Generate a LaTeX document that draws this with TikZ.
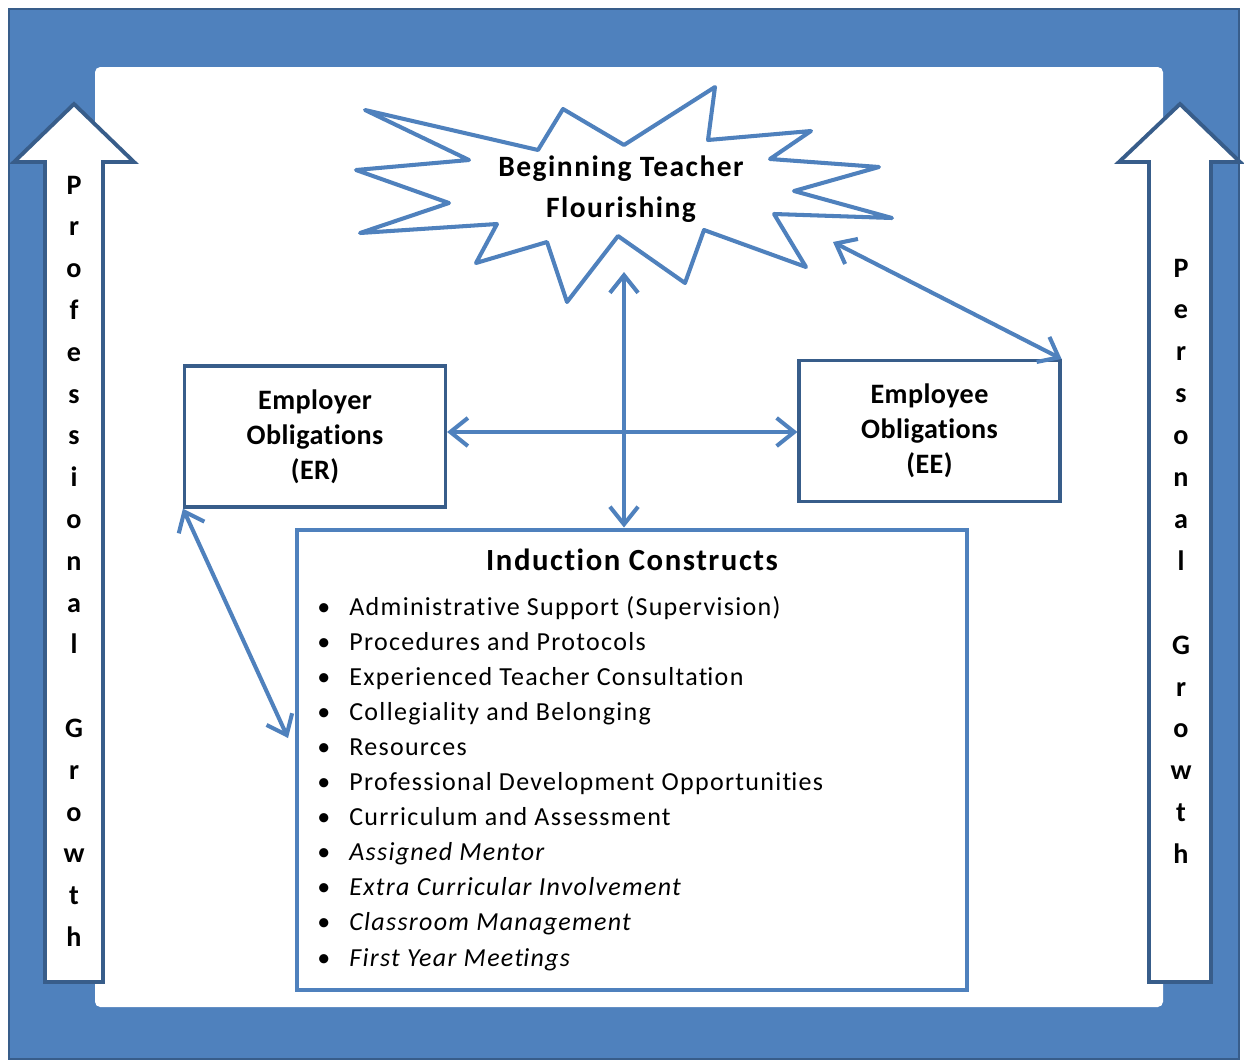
\documentclass[tikz,border=0pt]{standalone}
\usepackage{fontspec}
\setmainfont{Carlito}[Ligatures=NoCommon, RawFeature={-calt;-clig;-liga}]
\usetikzlibrary{arrows.meta,positioning}
\definecolor{frameblue}{HTML}{4F81BD}
\definecolor{darkblue}{HTML}{385D8A}

\begin{document}
\begin{tikzpicture}[x=0.2mm, y=-0.2mm, >={Straight Barb[length=10pt,width=16pt]}, line join=miter,
    obbox/.style={draw=darkblue, line width=1.8pt, fill=white, minimum width=52.2mm, minimum height=28.2mm,
      align=center, font=\fontsize{16}{19.8}\selectfont\bfseries\addfontfeatures{LetterSpace=1.5}},
    link/.style={draw=frameblue, line width=2.3pt, <->},
    growth/.style={draw=darkblue, line width=2.2pt, fill=white},
    letter/.style={anchor=base, font=\fontsize{16}{19}\selectfont\bfseries},
    listitem/.style={anchor=base west, inner sep=0pt, font=\fontsize{14.8}{19}\selectfont\addfontfeatures{LetterSpace=5}}]

  \useasboundingbox (0,0) rectangle (1244,1062);
  % frame
  \draw[fill=frameblue, draw=darkblue, line width=1.5pt] (9,9) rectangle (1239,1059);
  \fill[white, rounded corners=3pt] (95,67) rectangle (1163,1007);

  % growth arrows
  \draw[growth] (45,982) -- (45,162) -- (14,162) -- (74,104) -- (134,162) -- (103,162) -- (103,982) -- cycle;
  \draw[growth] (1149,982) -- (1149,162) -- (1119,162) -- (1180,104) -- (1240,162) -- (1211,162) -- (1211,982) -- cycle;
  \foreach \ch [count=\i from 0] in {P,r,o,f,e,s,s,i,o,n,a,l,{},G,r,o,w,t,h}
    \node[letter] (pro\i) at (74,194+41.8*\i) {\ch};
  \foreach \ch [count=\i from 0] in {P,e,r,s,o,n,a,l,{},G,r,o,w,t,h}
    \node[letter] (per\i) at (1181,277+41.9*\i) {\ch};

  % starburst
  \draw[frameblue, line width=2.3pt, fill=white, line join=round] (365,110) -- (469,160) -- (356,170) -- (449,203) -- (360,233)
    -- (497,224) -- (476,263) -- (547,242) -- (567,302) -- (618,236) -- (685,283) -- (704,230)
    -- (806,267) -- (774,214) -- (892,218) -- (794,191) -- (879,167) -- (770,159) -- (811,131)
    -- (708,140) -- (715,87) -- (624,145) -- (563,109) -- (538,150) -- cycle;
  \node[align=center, font=\fontsize{16.8}{23.2}\selectfont\bfseries\addfontfeatures{LetterSpace=5}] (btf) at (621,189) {Beginning Teacher\\Flourishing};

  \node[obbox] (er) at (315,436.5) {Employer\\Obligations\\(ER)};
  \node[obbox] (ee) at (929.5,431) {Employee\\Obligations\\(EE)};

  \node[draw=frameblue, line width=2.8pt, fill=white, minimum width=134mm, minimum height=92mm] (ic) at (632,760) {};
  \node[font=\fontsize{17.5}{21}\selectfont\bfseries\addfontfeatures{LetterSpace=5}] (ic-title) at (632,560) {Induction Constructs};
  \foreach \item [count=\i from 0] in {Administrative Support (Supervision), Procedures and Protocols,
      Experienced Teacher Consultat\kern0pt ion, Collegiality and Belonging, Resources,
      Professional Development Opportunit\kern0pt ies, Curriculum and Assessment,
      \itshape Assigned Mentor, \itshape Extra Curricular Involvement,
      \itshape Classroom Management, \itshape First Year Meet\kern0pt ings} {
    \node[listitem] (dot\i) at (317,615+35.1*\i) {•};
    \node[listitem] (item\i) at (349,615+35.1*\i) {\item};
  }

  % connectors
  \coordinate (btf-s) at (624,272);
  \coordinate (btf-se) at (833,242);
  \coordinate (hub) at (624,432);
  \coordinate (ic-w) at (288,738);
  \draw[link] (btf-s) -- (btf-s |- ic.north);
  \draw[link] (er.east |- hub) -- (ee.west |- hub);
  \draw[link] (btf-se) -- (ee.north east);
  \draw[link] (er.south west) -- (ic-w);
\end{tikzpicture}
\end{document}
